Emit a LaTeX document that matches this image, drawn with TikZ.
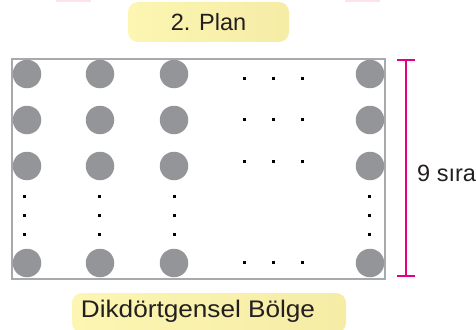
\documentclass[tikz,border=0pt]{standalone}
\usepackage{fontspec}
\setmainfont{Liberation Sans}
\definecolor{framegray}{HTML}{A7A9AC}
\definecolor{seatgray}{HTML}{939598}
\definecolor{inkdark}{HTML}{231F20}
\definecolor{measure}{HTML}{E6007E}
\definecolor{tagleft}{HTML}{FCF6B2}
\definecolor{tagright}{HTML}{F5ECA6}
\definecolor{faintpink}{HTML}{FCE3E8}
\begin{document}
\begin{tikzpicture}[x=1pt,y=-1pt,
  tag/.style={rounded corners=10pt,left color=tagleft,right color=tagright,
    draw=none,text=inkdark,font=\fontsize{23.5}{26}\selectfont,inner sep=0pt},
  seat/.style={circle,fill=seatgray,draw=none,minimum size=28.5pt,inner sep=0pt},
  dot/.style={rectangle,fill=black,draw=none,minimum size=3pt,inner sep=0pt},
  frame/.style={draw=framegray,line width=1.6pt},
  bar/.style={draw=measure,line width=2pt}]
\useasboundingbox (0,0) rectangle (476,329);
% faint marks along the top edge
\fill[faintpink] (56,0) rectangle (91,2);
\fill[faintpink] (345,0) rectangle (380,2);
% title tag
\node[tag,minimum width=161pt,minimum height=40pt] (plan) at (208.5,22) {2. Plan};
% region frame
\draw[frame] (12,59) rectangle (385,279);
% seats: full rows and the bottom row
\foreach \y [count=\r] in {74,120,166,263}{
  \foreach \x [count=\c] in {27,100,174,370}{
    \node[seat] (s\r\c) at (\x,\y) {};
  }
}
% dots continuing each row
\foreach \y [count=\r] in {78,119,161,262}{
  \foreach \x [count=\c] in {244,273,302}{
    \node[dot] (h\r\c) at (\x,\y) {};
  }
}
% dots continuing each column
\foreach \x [count=\c] in {24,99,174,369}{
  \foreach \y [count=\r] in {196,215,234}{
    \node[dot] (v\c\r) at (\x,\y) {};
  }
}
% row count bracket
\coordinate (bt) at (406,60);
\coordinate (bb) at (406,276);
\draw[bar] (bt) -- (bb);
\draw[bar] ([xshift=-9pt]bt) -- ([xshift=9pt]bt);
\draw[bar] ([xshift=-9pt]bb) -- ([xshift=9pt]bb);
\node[anchor=west,inner sep=0pt,text=inkdark,font=\fontsize{23.5}{26}\selectfont] (rows) at (417,173) {9 sıra};
% region name tag
\node[tag,minimum width=274pt,minimum height=40pt] (region) at (209,313) {};
\node[text=inkdark,font=\fontsize{24}{26}\selectfont,inner sep=0pt] (regiontext) at (198,311) {\scalebox{1.09}[1]{Dikdörtgensel Bölge}};
\end{tikzpicture}
\end{document}
